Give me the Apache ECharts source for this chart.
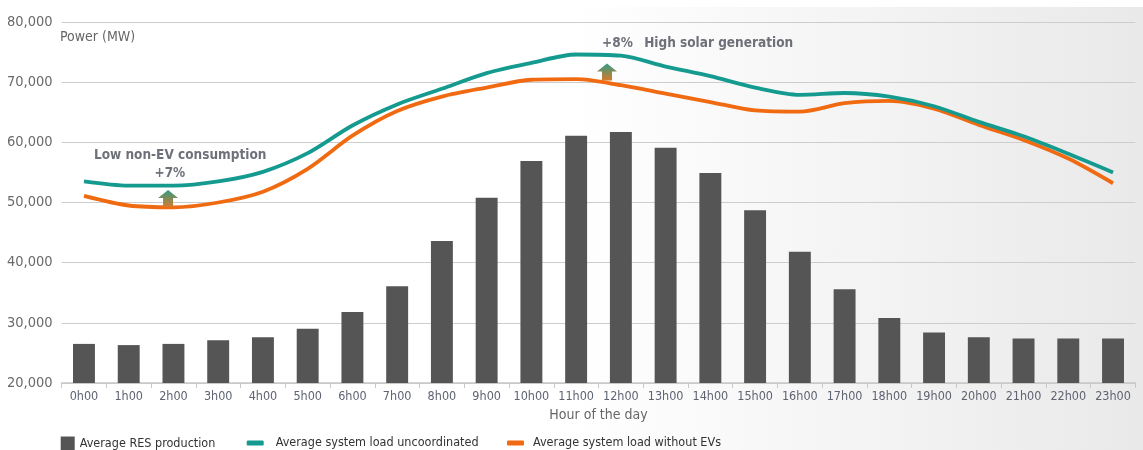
<!DOCTYPE html>
<html>
<head>
<meta charset="utf-8">
<title>Average hourly load and RES production</title>
<script src="https://cdn.jsdelivr.net/npm/echarts@6/dist/echarts.min.js"></script>
<style>
  html, body { margin: 0; padding: 0; background: #ffffff; }
  #wrap { position: relative; width: 1143px; height: 450px; overflow: hidden; }
  #bg { position: absolute; left: 0; top: 7px; width: 1143px; height: 443px;
        background: linear-gradient(to right, #ffffff 0%, #ffffff 50%, #e9e9e9 100%); }
  #chart { position: absolute; left: 0; top: 0; width: 1143px; height: 450px; }
</style>
</head>
<body>
<div id="wrap">
  <div id="bg"></div>
  <div id="chart"></div>
</div>
<script>
// Hours of the day (category axis)
const hours = ['0h00','1h00','2h00','3h00','4h00','5h00','6h00','7h00','8h00','9h00','10h00','11h00',
               '12h00','13h00','14h00','15h00','16h00','17h00','18h00','19h00','20h00','21h00','22h00','23h00'];

// Average RES production (MW)
const resProduction = [26500, 26300, 26500, 27100, 27600, 29000, 31800, 36100, 43600, 50800, 56900, 61100,
                       61700, 59100, 54900, 48700, 41800, 35600, 30800, 28400, 27600, 27400, 27400, 27400];

// Average system load, uncoordinated EV charging (MW)
const loadUncoordinated = [53500, 52800, 52800, 53500, 55100, 58200, 62800, 66300, 68900, 71500, 73200, 74600,
                           74400, 72600, 71000, 69100, 67900, 68200, 67600, 66000, 63400, 61000, 58100, 55000];

// Average system load without EVs (MW)
const loadWithoutEV = [51100, 49500, 49200, 50000, 51800, 55600, 61100, 65200, 67600, 69100, 70400, 70500,
                       69500, 68100, 66700, 65300, 65100, 66500, 66900, 65600, 62900, 60400, 57300, 53200];

// Value-axis ticks
const yTicks = [20000, 30000, 40000, 50000, 60000, 70000, 80000];

// Annotation texts
const noteLow = 'Low non-EV consumption';
const noteLowPct = '+7%';
const noteHighPct = '+8%';
const noteHigh = 'High solar generation';

const FONT = '"Liberation Sans Narrow", "DejaVu Sans Condensed", "Roboto", sans-serif';
const TEAL = '#149a8e';
const ORANGE = '#f06a12';
const BAR = '#555555';
const NOTE_COLOR = '#4a4d58';

const chart = echarts.init(document.getElementById('chart'), null, { renderer: 'canvas' });

const arrowPath = 'path://M10 0 L20 8 L15 8 L15 17 L5 17 L5 8 L0 8 Z';
const arrowFill = new echarts.graphic.LinearGradient(0, 0, 0, 1, [
  { offset: 0, color: '#2f9c86' },
  { offset: 1, color: '#d77a2a' }
]);

// annotation placement on a continuous hour scale (hidden x axis)
const arrows = [[1.88, 50650], [11.69, 71700]];
const notes = [
  { value: [2.15, 57750], text: noteLow, align: 'center' },
  { value: [1.92, 54750], text: noteLowPct, align: 'center' },
  { value: [11.58, 76450], text: noteHighPct, align: 'left' },
  { value: [12.52, 76450], text: noteHigh, align: 'left' }
];

const legendBase = {
  top: 436.5,
  padding: 0,
  orient: 'horizontal',
  textStyle: { fontFamily: FONT, fontSize: 12.5, color: '#333333' }
};

const option = {
  animation: false,
  backgroundColor: 'transparent',
  textStyle: { fontFamily: FONT },
  title: {
    text: 'Power (MW)',
    left: 55,
    top: 25,
    textStyle: { fontFamily: FONT, fontSize: 14, fontWeight: 'normal', color: '#666666' }
  },
  grid: { left: 61.6, right: 7.6, top: 22, bottom: 67, containLabel: false },
  legend: [
    Object.assign({}, legendBase, {
      left: 60.7,
      itemWidth: 14, itemHeight: 14,
      data: [{ name: 'Average RES production', icon: 'rect' }]
    }),
    Object.assign({}, legendBase, {
      left: 246.7,
      itemWidth: 17, itemHeight: 5,
      textStyle: Object.assign({}, legendBase.textStyle, { padding: [0, 0, 0, 7] }),
      data: [{ name: 'Average system load uncoordinated', icon: 'roundRect' }]
    }),
    Object.assign({}, legendBase, {
      left: 507,
      itemWidth: 17, itemHeight: 5,
      textStyle: Object.assign({}, legendBase.textStyle, { padding: [0, 0, 0, 4] }),
      data: [{ name: 'Average system load without EVs', icon: 'roundRect' }]
    })
  ],
  xAxis: [
    {
      type: 'category',
      data: hours,
      boundaryGap: true,
      name: 'Hour of the day',
      nameLocation: 'middle',
      nameGap: 22,
      nameTextStyle: { fontFamily: FONT, fontSize: 14, color: '#666666' },
      axisLine: { show: true, lineStyle: { color: '#c8c8c8', width: 1.5 } },
      axisTick: { show: true, alignWithLabel: false, length: 5, lineStyle: { color: '#c8c8c8' } },
      axisLabel: { fontFamily: FONT, fontSize: 12.5, color: '#5f6372', margin: 7, interval: 0 },
      splitLine: { show: false }
    },
    {
      type: 'value',
      min: -0.5,
      max: 23.5,
      show: false
    }
  ],
  yAxis: {
    type: 'value',
    min: yTicks[0],
    max: yTicks[yTicks.length - 1],
    interval: yTicks[1] - yTicks[0],
    axisLine: { show: false },
    axisTick: { show: false },
    axisLabel: {
      fontFamily: FONT, fontSize: 14.5, color: '#6a6a6a', margin: 9,
      formatter: v => v.toLocaleString('en-US')
    },
    splitLine: { show: true, lineStyle: { color: '#cdcdcd', width: 1.2 } }
  },
  series: [
    {
      name: 'Average RES production',
      type: 'bar',
      data: resProduction,
      barWidth: '49%',
      itemStyle: { color: BAR },
      z: 2
    },
    {
      name: 'Average system load uncoordinated',
      type: 'line',
      data: loadUncoordinated,
      smooth: 0.3,
      symbol: 'none',
      lineStyle: { color: TEAL, width: 3.8 },
      itemStyle: { color: TEAL },
      z: 4
    },
    {
      name: 'Average system load without EVs',
      type: 'line',
      data: loadWithoutEV,
      smooth: 0.3,
      symbol: 'none',
      lineStyle: { color: ORANGE, width: 3.8 },
      itemStyle: { color: ORANGE },
      z: 3
    },
    {
      name: 'arrows',
      type: 'scatter',
      xAxisIndex: 1,
      data: arrows,
      symbol: arrowPath,
      symbolSize: [20, 17],
      itemStyle: { color: arrowFill, opacity: 1 },
      silent: true,
      z: 5
    },
    {
      name: 'notes',
      type: 'scatter',
      xAxisIndex: 1,
      data: notes.map(n => ({ value: n.value, name: n.text, label: { align: n.align } })),
      symbolSize: 0,
      silent: true,
      label: {
        show: true,
        position: 'inside',
        formatter: p => p.name,
        fontFamily: FONT,
        fontSize: 13.5,
        fontWeight: 'bold',
        color: NOTE_COLOR
      },
      z: 6
    }
  ]
};

chart.setOption(option);
</script>
</body>
</html>
